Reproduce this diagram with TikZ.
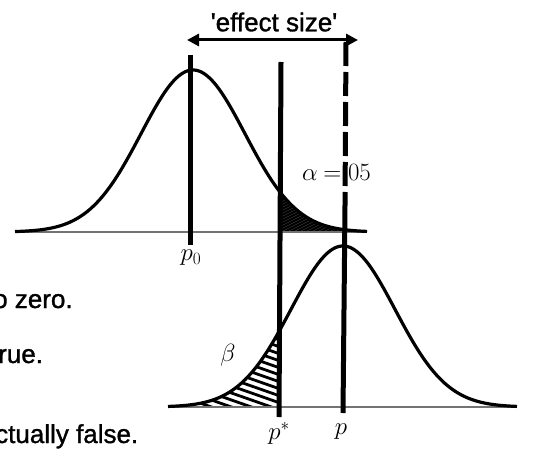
\documentclass[tikz,border=0pt]{standalone}
\usepackage{fontspec}
\setmainfont{Liberation Sans}[FakeBold=1.2]
\usetikzlibrary{arrows.meta}
\begin{document}
\begin{tikzpicture}[x=1pt,y=1pt,
  declare function={gA(\x)=216+162*exp(-0.5*((\x-193)/52)*((\x-193)/52));
                    gB(\x)=41+161*exp(-0.5*((\x-343)/52)*((\x-343)/52));},
  curve/.style={line width=3.2pt, line join=round},
  vline/.style={line width=5pt},
  base/.style={line width=1.3pt, black!55},
  hatchA/.style={line width=2.6pt},
  hatchB/.style={line width=2.8pt},
  lbl/.style={font=\fontsize{26}{30}\selectfont, inner sep=0pt},
  elbl/.style={font=\fontsize{26}{30}\selectfont, inner sep=0pt},
  mlbl/.style={font=\fontsize{27}{30}\selectfont, inner sep=0pt}]
\useasboundingbox (0,0) rectangle (537,448);
\clip (0,0) rectangle (537,448);
% hatching
\begin{scope}
  \clip (280,216) -- plot[domain=280:367,samples=40] (\x,{gA(\x)}) -- (367,216) -- cycle;
  \foreach \c in {180,186,...,380} \draw[hatchA] (\c,206) -- ++(200,100);
\end{scope}
\begin{scope}
  \clip (168,41) -- plot[domain=168:280,samples=40] (\x,{gB(\x)}) -- (280,41) -- cycle;
  \foreach \k in {-10,-3,...,160} \draw[hatchB] (160,41+\k) -- ++(140,-49);
\end{scope}
% baselines and curves
\coordinate (aL) at (15,216); \coordinate (aR) at (367,216);
\coordinate (bL) at (168,41); \coordinate (bR) at (517,41);
\draw[base] (aL) -- (aR);
\draw[base] (bL) -- (bR);
\draw[curve] plot[domain=15:367,samples=160] (\x,{gA(\x)});
\draw[curve] plot[domain=168:517,samples=160] (\x,{gB(\x)});
% labels
\node[elbl] (es) at (274,426) {\textquotesingle effect size\textquotesingle};
\node[lbl,anchor=base west] (t1) at (-7,140) {o zero.};
\node[lbl,anchor=base west] (t2) at (-2,85) {rue.};
\node[lbl,anchor=base west] (t3) at (-5,5) {ctually false.};
\node[mlbl] (lp0) at (191,190) {$p_0$};
\node[mlbl] (lps) at (279,15) {$p^*$};
\node[mlbl] (lp) at (341,16) {$p$};
\node[mlbl] (lb) at (228,93) {$\beta$};
\node[font=\fontsize{25}{28}\selectfont, inner sep=0pt, anchor=west] (la) at (302,276) {$\alpha\mkern4mu{=}.05$};
% vertical lines
\coordinate (p0top) at (190,393); \coordinate (p0bot) at (190,203);
\coordinate (pstop) at (281,386); \coordinate (psbot) at (279,31);
\coordinate (ptop) at (346,406); \coordinate (pmid) at (345,243); \coordinate (pbot) at (343,35);
\draw[vline] (p0top) -- (p0bot);
\draw[vline] (pstop) -- (psbot);
\draw[vline, dash pattern=on 24pt off 6pt] (ptop) -- (pmid);
\draw[vline] (pmid) -- (pbot);
% effect size arrow
\coordinate (al) at (187,408); \coordinate (ar) at (358,408);
\draw[line width=3pt, {Triangle[length=12pt,width=12pt]}-{Triangle[length=12pt,width=12pt]}] (al) -- (ar);
\end{tikzpicture}
\end{document}
